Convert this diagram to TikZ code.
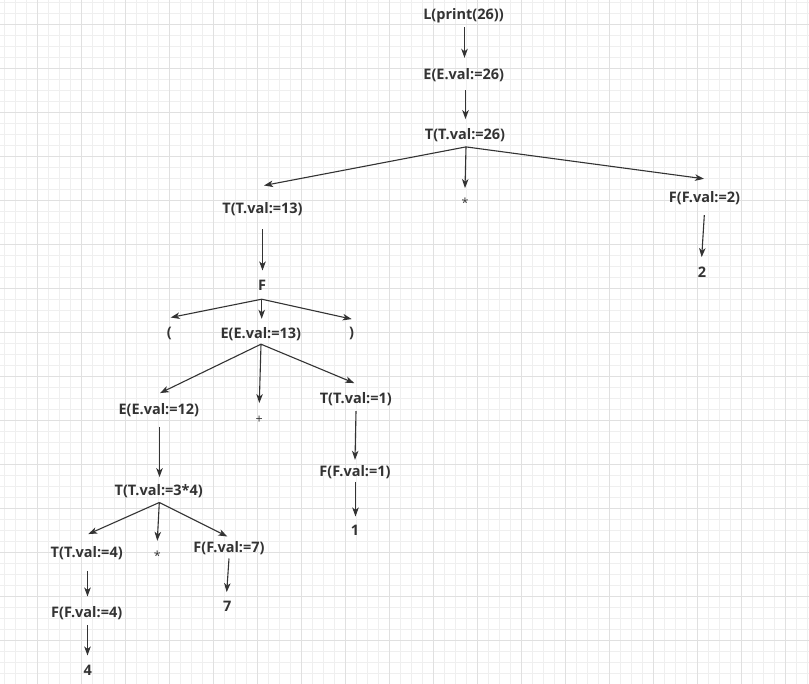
\documentclass[tikz,border=0pt]{standalone}
\usepackage{fontspec}
\setmainfont{Open Sans}
\usetikzlibrary{arrows.meta}
\definecolor{ink}{HTML}{333333}
\definecolor{gminor}{HTML}{EFEFEF}
\definecolor{gmajor}{HTML}{E0E0E0}
\tikzset{
  lbl/.style={anchor=base,inner sep=0pt,text height=10pt,text depth=3pt,text=ink,font=\fontsize{14.5}{17}\selectfont\bfseries},
  sym/.style={anchor=base,inner sep=0pt,text height=10pt,text depth=3pt,text=ink,font=\fontsize{12.5}{15}\selectfont},
  arr/.style={draw=ink,line width=1.1pt,-{Stealth[length=9pt,width=6.5pt,inset=2.5pt]}}
}
\begin{document}
\begin{tikzpicture}[x=1pt,y=-1pt]
\useasboundingbox (0,0) rectangle (809,684);
\fill[white] (0,0) rectangle (809,684);
% grid
\foreach \i in {0,...,73} {\draw[gminor,line width=1pt] ({4.33+11*\i},0) -- ({4.33+11*\i},684);}
\foreach \i in {0,...,62} {\draw[gminor,line width=1pt] (0,{2.67+11*\i}) -- (809,{2.67+11*\i});}
\foreach \i in {0,...,17} {\draw[gmajor,line width=1pt] ({37.33+44*\i},0) -- ({37.33+44*\i},684);}
\foreach \i in {0,...,15} {\draw[gmajor,line width=1pt] (0,{24.67+44*\i}) -- (809,{24.67+44*\i});}
% nodes (base = visual centre + 5)
\node[lbl] (L) at (463.5,20) {L(print(26))};
\node[lbl] (E26) at (463.7,80) {E(E.val:=26)};
\node[lbl] (T26) at (465,140) {T(T.val:=26)};
\node[sym] (star1) at (465,208) {*};
\node[lbl] (T13) at (262.5,213.3) {T(T.val:=13)};
\node[lbl] (F2) at (704.5,202.3) {F(F.val:=2)};
\node[lbl] (two) at (702,277.7) {2};
\node[lbl] (F) at (262,290.7) {F};
\node[lbl] (lp) at (169.3,337.7) {(};
\node[lbl] (E13) at (260.8,338.3) {E(E.val:=13)};
\node[lbl] (rp) at (351.7,338) {)};
\node[lbl] (E12) at (158.8,415) {E(E.val:=12)};
\node[sym] (plus) at (259.3,423.5) {+};
\node[lbl] (T1) at (355.8,403.3) {T(T.val:=1)};
\node[lbl] (F1) at (355,476.7) {F(F.val:=1)};
\node[lbl] (one) at (355,535.7) {1};
\node[lbl] (T34) at (158.7,495.7) {T(T.val:=3*4)};
\node[lbl] (T4) at (86.7,557.7) {T(T.val:=4)};
\node[sym] (star2) at (157.3,560.5) {*};
\node[lbl] (F7) at (229,552.7) {F(F.val:=7)};
\node[lbl] (seven) at (227.3,611.7) {7};
\node[lbl] (F4) at (86.7,617.3) {F(F.val:=4)};
\node[lbl] (four) at (87.7,675) {4};
% connectors
\draw[arr] ([shift={(1,4)}]L.south) -- ([shift={(0.8,-12)}]E26.north);
\draw[arr] ([shift={(1.8,7)}]E26.south) -- ([shift={(0.5,-10.7)}]T26.north);
\draw[arr] ([shift={(1,3.7)}]T26.south) -- ([shift={(0,-9.7)}]star1.north);
\draw[arr] ([shift={(1,3.7)}]T26.south) -- ([shift={(1.5,-17.6)}]T13.north);
\draw[arr] ([shift={(1,3.7)}]T26.south) -- ([shift={(-0.5,-13.3)}]F2.north);
\draw[arr] ([shift={(-0.2,9.7)}]F2.south) -- ([shift={(-0.3,-10.4)}]two.north);
\draw[arr] ([shift={(0,13)}]T13.south) -- ([shift={(0.5,-10)}]F.north);
\draw[arr] ([shift={(-0.3,5.3)}]F.south) -- ([shift={(1.4,-10)}]lp.north);
\draw[arr] ([shift={(-0.3,5.3)}]F.south) -- ([shift={(0.9,-9.3)}]E13.north);
\draw[arr] ([shift={(-0.3,5.3)}]F.south) -- ([shift={(0,-8.7)}]rp.north);
\draw[arr] ([shift={(0.2,2.7)}]E13.south) -- ([shift={(1.2,-11.7)}]E12.north);
\draw[arr] ([shift={(0.2,2.7)}]E13.south) -- ([shift={(0,-10.2)}]plus.north);
\draw[arr] ([shift={(0.2,2.7)}]E13.south) -- ([shift={(-1.5,-10)}]T1.north);
\draw[arr] ([shift={(0.2,4.7)}]T1.south) -- ([shift={(0,-6.7)}]F1.north);
\draw[arr] ([shift={(0.5,2)}]F1.south) -- ([shift={(0.5,-9)}]one.north);
\draw[arr] ([shift={(0.7,8.7)}]E12.south) -- ([shift={(0.8,-8.4)}]T34.north);
\draw[arr] ([shift={(0.6,3.6)}]T34.south) -- ([shift={(1.6,-13.4)}]T4.north);
\draw[arr] ([shift={(0.6,3.6)}]T34.south) -- ([shift={(0,-9.5)}]star2.north);
\draw[arr] ([shift={(0.6,3.6)}]T34.south) -- ([shift={(-1.7,-6)}]F7.north);
\draw[arr] ([shift={(0.8,10)}]T4.south) -- ([shift={(0.8,-10.6)}]F4.north);
\draw[arr] ([shift={(0.8,4.7)}]F4.south) -- ([shift={(-0.2,-9.3)}]four.north);
\draw[arr] ([shift={(0,2.6)}]F7.south) -- ([shift={(-0.6,-9.4)}]seven.north);
\end{tikzpicture}
\end{document}
